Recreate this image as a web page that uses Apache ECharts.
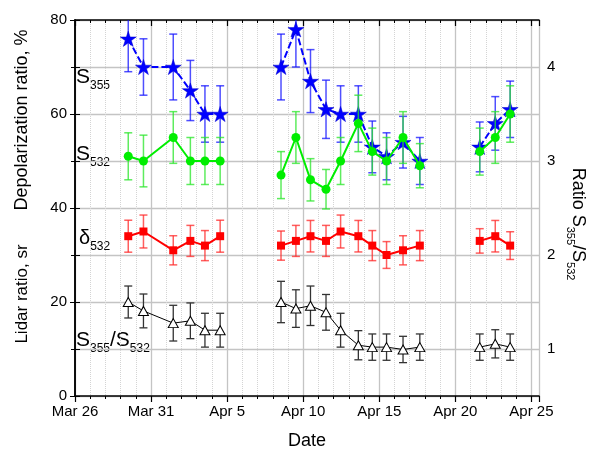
<!DOCTYPE html>
<html><head><meta charset="utf-8">
<script src="https://cdn.jsdelivr.net/npm/echarts@6/dist/echarts.min.js"></script>
<style>html,body{margin:0;padding:0;background:#fff}#c{width:590px;height:455px}</style>
</head><body><div id="c"></div>
<script>
// ---- data ----
const times = ['2020-03-29T12:00','2020-03-30T12:00','2020-04-01T11:00','2020-04-02T14:00','2020-04-03T13:00','2020-04-04T13:00',
  '2020-04-08T13:00','2020-04-09T12:30','2020-04-10T11:30','2020-04-11T12:00','2020-04-12T11:00','2020-04-13T15:00',
  '2020-04-14T13:00','2020-04-15T11:30','2020-04-16T13:30','2020-04-17T16:00',
  '2020-04-21T14:30','2020-04-22T15:00','2020-04-23T14:30'];
const S355    = [76,70,70,65,60,60, 70,78,67,61,60,60,53,51,54,50, 53,58,61];
const S355err = [7,6,7,6.4,6,6, 7,8,6.7,6.2,6,6,5.5,5,5.5,5, 5.3,5.7,6];
const S532    = [51,50,55,50,50,50, 47,55,46,44,50,58,52,50,55,49, 52,55,60];
const S532err = [5,5.5,5.5,5,5,5, 5,5.5,4.5,4.2,5,6,5,5,5.5,4.7, 5,5.5,6];
const D532    = [34,35,31,33,32,34, 32,33,34,33,35,34,32,30,31,32, 33,34,32];
const D532err = [3.4,3.5,3.1,3.3,3.2,3.4, 3.1,3.3,3.35,3.3,3.5,3.35,3.2,2.85,3.1,3.2, 2.6,3.35,2.95];
const RATIO    = [1.5,1.405,1.275,1.3,1.2,1.2, 1.5,1.43,1.46,1.39,1.2,1.04,1.02,1.02,0.995,1.02, 1.02,1.055,1.02];
const RATIOerr = [0.17,0.18,0.19,0.19,0.18,0.18, 0.22,0.2,0.21,0.19,0.18,0.155,0.14,0.14,0.14,0.14, 0.14,0.15,0.14];
const xTickLabels = ['Mar 26','Mar 31','Apr 5','Apr 10','Apr 15','Apr 20','Apr 25'];
const startDate = [2020,2,26];

// ---- helpers ----
const t0 = Date.UTC(startDate[0], startDate[1], startDate[2]);
function dayOff(s){
  const [d,h] = s.split('T');
  const [Y,M,D] = d.split('-').map(Number);
  const [hh,mm] = h.split(':').map(Number);
  return (Date.UTC(Y,M-1,D,hh,mm) - t0) / 864e5;
}
const xs = times.map(dayOff);
function lineData(vals){
  const out = [];
  for (let i=0;i<xs.length;i++){
    if (i>0 && xs[i]-xs[i-1] > 2) out.push([(xs[i]+xs[i-1])/2, '-']);
    out.push([xs[i], vals[i]]);
  }
  return out;
}
function errData(vals, errs){ return xs.map((x,i)=>[x, vals[i]-errs[i], vals[i]+errs[i]]); }
function errRender(color, lw){
  return function(params, api){
    const x = api.value(0), lo = api.value(1), hi = api.value(2);
    const p1 = api.coord([x, lo]), p2 = api.coord([x, hi]);
    const w = 4;
    const st = {stroke: color, lineWidth: lw, fill: null};
    return {type:'group', children:[
      {type:'line', shape:{x1:p1[0],y1:p1[1],x2:p2[0],y2:p2[1]}, style:st},
      {type:'line', shape:{x1:p1[0]-w,y1:p1[1],x2:p1[0]+w,y2:p1[1]}, style:st},
      {type:'line', shape:{x1:p2[0]-w,y1:p2[1],x2:p2[0]+w,y2:p2[1]}, style:st}
    ]};
  };
}
const STAR = 'path://M50,0 L61.2,34.5 L97.6,34.5 L68.2,55.9 L79.4,90.5 L50,69.1 L20.6,90.5 L31.8,55.9 L2.4,34.5 L38.8,34.5 Z';
const FONT = '"Liberation Sans", Arial, sans-serif';
const XMAX = 30.5;

const chart = echarts.init(document.getElementById('c'), null, {renderer:'canvas'});
const axisBlack = {show:true, lineStyle:{color:'#000', width:1.5}};
const sub = (fs, pad) => ({fontSize: fs, fontFamily: FONT, color:'#000', lineHeight: fs, padding:[pad,0,0,0]});
const main = (fs) => ({fontSize: fs, fontFamily: FONT, color:'#000', lineHeight: fs+2});

chart.setOption({
  animation: false,
  backgroundColor: '#fff',
  grid: {left: 75, right: 51, top: 20, bottom: 57},
  xAxis: [
    { type:'value', min:0, max:XMAX, interval:1, position:'bottom',
      axisLine: axisBlack,
      axisTick: {show:true, length:3, lineStyle:{color:'#000', width:1}},
      axisLabel: {color:'#000', fontSize:15, fontFamily:FONT, margin:8,
        formatter: v => (Math.abs(v%5)<1e-9 ? xTickLabels[Math.round(v/5)] : '')},
      splitLine: {show:true, lineStyle:{color:'#d4d4d4', type:'dotted', width:1}},
      name:'Date', nameLocation:'middle', nameGap:36,
      nameTextStyle:{color:'#000', fontSize:18, fontFamily:FONT}
    },
    { type:'value', min:0, max:XMAX, interval:5, position:'bottom',
      axisLine:{show:false}, axisLabel:{show:false},
      axisTick:{show:true, length:6, lineStyle:{color:'#000', width:1.2}},
      splitLine:{show:true, lineStyle:{color:'#c4c4c4', width:1.3}}
    },
    { type:'value', min:0, max:XMAX, interval:1, position:'top',
      axisLine: axisBlack, axisLabel:{show:false},
      axisTick:{show:true, inside:true, length:3, lineStyle:{color:'#000'}},
      splitLine:{show:false}
    },
    { type:'value', min:0, max:XMAX, interval:5, position:'top',
      axisLine:{show:false}, axisLabel:{show:false},
      axisTick:{show:true, inside:true, length:6, lineStyle:{color:'#000', width:1.2}},
      splitLine:{show:false}
    }
  ],
  yAxis: [
    { type:'value', min:0, max:80, interval:20, position:'left',
      axisLine: axisBlack,
      axisTick:{show:true, length:5, lineStyle:{color:'#000'}},
      minorTick:{show:true, splitNumber:2, length:4, lineStyle:{color:'#000'}},
      axisLabel:{color:'#000', fontSize:15, fontFamily:FONT, margin:8},
      splitLine:{show:true, lineStyle:{color:'#c4c4c4', width:1.3}},
      minorSplitLine:{show:true, lineStyle:{color:'#c4c4c4', width:1.3}}
    },
    { type:'value', min:0.5, max:4.5, interval:0.5, position:'right',
      axisLine: axisBlack,
      axisTick:{show:true, length:5, lineStyle:{color:'#000'}},
      axisLabel:{color:'#000', fontSize:15, fontFamily:FONT, margin:8,
        formatter: v => (Math.abs(v-Math.round(v))<1e-9 ? String(Math.round(v)) : '')},
      splitLine:{show:false}
    }
  ],
  series: [
    {type:'custom', name:'S355 err', renderItem: errRender('rgba(20,20,255,0.75)', 1.5), data: errData(S355,S355err), clip:true, z:2},
    {type:'line', name:'S355', data: lineData(S355), symbol: STAR, symbolSize:16, symbolKeepAspect:true,
      itemStyle:{color:'#0000ff', borderColor:'#0000cc', borderWidth:0.5}, lineStyle:{color:'#0000ff', width:2, type:[7,3]}, connectNulls:false, z:3},
    {type:'custom', name:'S532 err', renderItem: errRender('rgba(40,230,40,0.75)', 1.5), data: errData(S532,S532err), clip:true, z:4},
    {type:'line', name:'S532', data: lineData(S532), symbol:'circle', symbolSize:9,
      itemStyle:{color:'#00ee00'}, lineStyle:{color:'#00ee00', width:2}, connectNulls:false, z:5},
    {type:'custom', name:'d532 err', renderItem: errRender('rgba(255,40,40,0.75)', 1.5), data: errData(D532,D532err), clip:true, z:4},
    {type:'line', name:'d532', data: lineData(D532), symbol:'rect', symbolSize:8,
      itemStyle:{color:'#ff0000'}, lineStyle:{color:'#ff0000', width:2}, connectNulls:false, z:5},
    {type:'custom', name:'ratio err', yAxisIndex:1, renderItem: errRender('#333', 1.3), data: errData(RATIO,RATIOerr), clip:true, z:4},
    {type:'line', name:'ratio', yAxisIndex:1, data: lineData(RATIO), symbol:'triangle', symbolSize:[10,9],
      itemStyle:{color:'#fff', borderColor:'#000', borderWidth:1}, lineStyle:{color:'#000', width:1}, connectNulls:false, z:5}
  ],
  graphic: [
    {type:'text', x:76, y:77, style:{text:'{a|S}{b|355}', verticalAlign:'middle', rich:{a:main(21), b:sub(12,18)}}},
    {type:'text', x:76, y:154, style:{text:'{a|S}{b|532}', verticalAlign:'middle', rich:{a:main(21), b:sub(12,18)}}},
    {type:'text', x:79, y:238, style:{text:'{a|δ}{b|532}', verticalAlign:'middle', rich:{a:main(20), b:sub(12,18)}}},
    {type:'text', x:76, y:340, style:{text:'{a|S}{b|355}{a|/S}{b|532}', verticalAlign:'middle', rich:{a:main(21), b:sub(12,18)}}},
    {type:'text', x:22, y:120, rotation:Math.PI/2, style:{text:'Depolarization ratio, %', align:'center', verticalAlign:'middle', font:'18px '+FONT, fill:'#000'}},
    {type:'text', x:22, y:294, rotation:Math.PI/2, style:{text:'Lidar ratio, sr', align:'center', verticalAlign:'middle', font:'17px '+FONT, fill:'#000'}},
    {type:'text', x:578, y:224, rotation:-Math.PI/2, style:{text:'{a|Ratio S}{b|355}{a|/S}{b|532}', align:'center', verticalAlign:'middle', rich:{a:main(18), b:sub(11,16)}}}
  ]
});
</script></body></html>
